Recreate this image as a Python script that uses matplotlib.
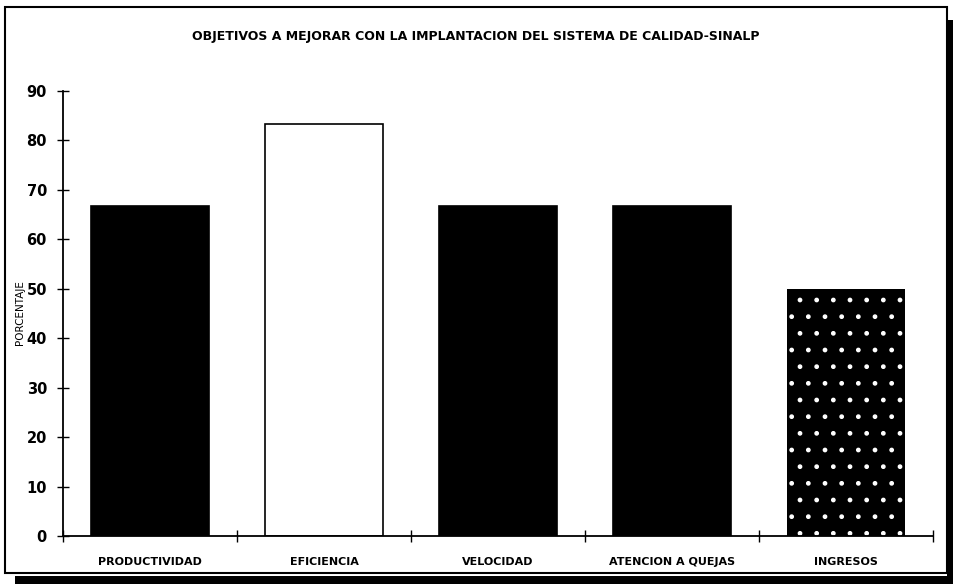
import matplotlib
matplotlib.use('Agg')
import matplotlib.pyplot as plt
from matplotlib.patches import Rectangle

# Datos del grafico
categorias = ['PRODUCTIVIDAD', 'EFICIENCIA', 'VELOCIDAD', 'ATENCION A QUEJAS', 'INGRESOS']
porcentajes = [66.7, 83.3, 66.7, 66.7, 50.0]
colores = ['black', 'white', 'black', 'black', 'black']
ticks_y = [0, 10, 20, 30, 40, 50, 60, 70, 80, 90]

titulo = 'OBJETIVOS A MEJORAR CON LA IMPLANTACION DEL SISTEMA DE CALIDAD-SINALP'

fig = plt.figure(figsize=(9.54, 5.84), dpi=100)
ax = fig.add_axes([0.066, 0.0822, 0.912, 0.762])

posiciones = range(len(categorias))
barras = ax.bar(posiciones, porcentajes, width=0.68, color=colores,
                edgecolor='black', linewidth=1.2)
# la ultima barra lleva una trama moteada
barras[-1].set_hatch('.')
barras[-1].set_edgecolor('white')
barras[-1].set_linewidth(0)

ax.set_xlim(-0.5, len(categorias) - 0.5)
ax.set_ylim(0, 90)
ax.set_yticks(ticks_y)
ax.set_yticklabels([str(t) for t in ticks_y], fontsize=10.5, fontweight='heavy')

# ticks del eje x entre categorias, etiquetas centradas
ax.set_xticks([i - 0.5 for i in range(len(categorias) + 1)])
ax.set_xticklabels([])
ax.set_xticks(list(posiciones), minor=True)
ax.set_xticklabels(categorias, minor=True, fontsize=8, fontweight='heavy')
ax.tick_params(axis='x', which='minor', length=0, pad=15)
ax.tick_params(axis='x', which='major', direction='inout', length=9, width=1)
ax.tick_params(axis='y', direction='inout', length=9, width=1, pad=7)

ax.spines['top'].set_visible(False)
ax.spines['right'].set_visible(False)
ax.spines['left'].set_linewidth(1.3)
ax.spines['bottom'].set_linewidth(1.3)

fig.text(0.499, 0.937, titulo, ha='center', va='center', fontsize=9, fontweight='heavy')
fig.text(0.021, 0.464, 'PORCENTAJE', rotation=90, ha='center', va='center',
         fontsize=7.5, family=['Liberation Sans Narrow', 'DejaVu Sans'])

# marco con sombra
fig.patches.append(Rectangle((0.0052, 0.0188), 0.9875, 0.9692, transform=fig.transFigure,
                             fill=False, edgecolor='black', linewidth=1.5))
fig.patches.append(Rectangle((0.9927, 0.0), 0.0073, 0.966, transform=fig.transFigure,
                             facecolor='black', edgecolor='none'))
fig.patches.append(Rectangle((0.0157, 0.0), 0.9843, 0.0137, transform=fig.transFigure,
                             facecolor='black', edgecolor='none'))

plt.savefig('out.png', dpi=100)
